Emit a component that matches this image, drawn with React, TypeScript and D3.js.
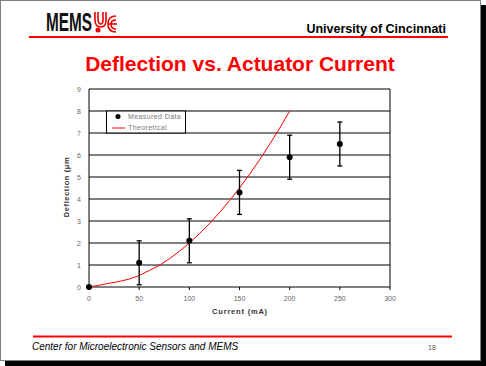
import React from "react";
import * as d3 from "d3";

const measuredX = [0, 50, 100, 150, 200, 250];
const measuredY = [0, 1.1, 2.1, 4.3, 5.9, 6.5];
const errorLow = [0, 0.1, 1.1, 3.3, 4.9, 5.5];
const errorHigh = [0, 2.1, 3.1, 5.3, 6.9, 7.5];

const theoryX = [0, 10, 20, 30, 40, 50, 60, 70, 80, 90, 100, 110, 120, 130, 140, 150, 160, 170, 180, 190, 200];
const theoryY = [0, 0.08, 0.17, 0.25, 0.36, 0.52, 0.75, 0.98, 1.28, 1.62, 2.0, 2.42, 2.88, 3.38, 3.92, 4.5, 5.12, 5.78, 6.48, 7.22, 8.0];

const xTicks = [0, 50, 100, 150, 200, 250, 300];
const yTicks = [0, 1, 2, 3, 4, 5, 6, 7, 8, 9];

const FONT = "'Liberation Sans', Arial, Helvetica, sans-serif";

export default function App() {
  const x = d3.scaleLinear().domain([0, 300]).range([89, 390]);
  const y = d3.scaleLinear().domain([0, 9]).range([287, 89]);
  const line = d3
    .line<number>()
    .x((_, i) => x(theoryX[i]))
    .y((d) => y(d));

  return (
    <svg
      width={486}
      height={366}
      style={{ position: "absolute", left: 0, top: 0, background: "#fff" }}
      fontFamily={FONT}
    >
      {/* shadow + page */}
      <rect x={5} y={5} width={481} height={361} fill="#000" />
      <rect x={0.5} y={0.5} width={480} height={360} fill="#fff" stroke="#808080" strokeWidth={1} />

      {/* header logo */}
      <text x={46} y={31} fontSize={25} fontWeight="bold" fill="#111" textLength={46} lengthAdjust="spacingAndGlyphs">
        MEMS
      </text>
      <g stroke="#e00" strokeWidth={1.6} fill="none">
        <path d="M95,12 L95,20 Q95,27 101,27 Q106,27 106,20 L106,12" />
        <path d="M98,12 L98,19 Q98,24 101,24 Q103,24 103,19 L103,12" />
        <path d="M116,16 Q108,16 108,24 Q108,32 116,32" />
        <path d="M116,20 Q111,20 111,24 Q111,29 116,29" />
        <path d="M108,24 L117,24" />
      </g>
      <circle cx={98} cy={30} r={2.5} fill="#e00" />

      <text x={446} y={33} fontSize={12.5} fontWeight="bold" fill="#000" textAnchor="end">
        University of Cincinnati
      </text>
      <rect x={29} y={36} width={419} height={2} fill="#f00" />

      <text x={240} y={71} fontSize={21} fontWeight="bold" fill="#f00" textAnchor="middle">
        Deflection vs. Actuator Current
      </text>

      {/* gridlines */}
      {yTicks.slice(1).map((t) => (
        <line key={t} x1={x(0)} x2={x(300)} y1={y(t)} y2={y(t)} stroke="#000" strokeWidth={1} />
      ))}
      {/* frame */}
      <line x1={x(0)} x2={x(0)} y1={y(0)} y2={y(9)} stroke="#000" />
      <line x1={x(300)} x2={x(300)} y1={y(0)} y2={y(9)} stroke="#000" />
      <line x1={x(0)} x2={x(300)} y1={y(0)} y2={y(0)} stroke="#000" />
      {xTicks.map((t) => (
        <line key={t} x1={x(t)} x2={x(t)} y1={y(0)} y2={y(0) + 3} stroke="#000" />
      ))}

      {/* tick labels */}
      {yTicks.map((t) => (
        <text key={t} x={81} y={y(t) + 2.5} fontSize={7} fill="#666" textAnchor="end">
          {t}
        </text>
      ))}
      {xTicks.map((t) => (
        <text key={t} x={x(t)} y={301} fontSize={7} fill="#666" textAnchor="middle">
          {t}
        </text>
      ))}

      {/* axis titles */}
      <text x={240} y={314} fontSize={7.5} fontWeight="bold" fill="#333" textAnchor="middle" letterSpacing={0.8}>
        Current (mA)
      </text>
      <text
        transform={`translate(69,187) rotate(-90)`}
        fontSize={7.5}
        fontWeight="bold"
        fill="#333"
        textAnchor="middle"
        letterSpacing={0.6}
      >
        Deflection (μm
      </text>

      {/* theoretical curve */}
      <path d={line(theoryY) || ""} fill="none" stroke="#f00" strokeWidth={1} />

      {/* error bars and points */}
      {measuredX.map((mx, i) => (
        <g key={mx}>
          {errorHigh[i] !== errorLow[i] && (
            <g stroke="#000" strokeWidth={1.3}>
              <line x1={x(mx)} x2={x(mx)} y1={y(errorLow[i])} y2={y(errorHigh[i])} />
              <line x1={x(mx) - 2.5} x2={x(mx) + 2.5} y1={y(errorLow[i])} y2={y(errorLow[i])} />
              <line x1={x(mx) - 2.5} x2={x(mx) + 2.5} y1={y(errorHigh[i])} y2={y(errorHigh[i])} />
            </g>
          )}
          <circle cx={x(mx)} cy={y(measuredY[i])} r={3} fill="#000" />
        </g>
      ))}

      {/* legend */}
      <rect x={106.5} y={111} width={79} height={22} fill="#fff" stroke="#000" strokeWidth={1} />
      <circle cx={118} cy={116.5} r={2.5} fill="#000" />
      <text x={128} y={119} fontSize={7} fill="#777" letterSpacing={0.4}>
        Measured Data
      </text>
      <line x1={112} x2={125} y1={128} y2={128} stroke="#f00" strokeWidth={1} />
      <text x={128} y={130} fontSize={7} fill="#777" letterSpacing={0.4}>
        Theoretical
      </text>

      {/* footer */}
      <rect x={33} y={335.5} width={419} height={2} fill="#f00" />
      <text x={32} y={350} fontSize={10} fontStyle="italic" fill="#000">
        Center for Microelectronic Sensors and MEMS
      </text>
      <text x={428} y={350} fontSize={7} fill="#555">
        18
      </text>
    </svg>
  );
}
